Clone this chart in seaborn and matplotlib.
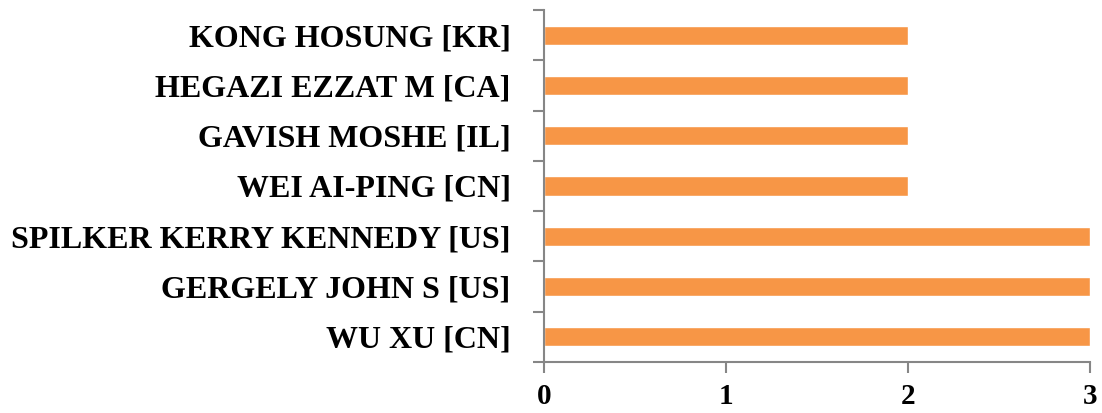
import matplotlib
matplotlib.use("Agg")
import matplotlib.pyplot as plt
import seaborn as sns
import pandas as pd
import numpy as np

inventors = [
    "KONG HOSUNG [KR]",
    "HEGAZI EZZAT M [CA]",
    "GAVISH MOSHE [IL]",
    "WEI AI-PING [CN]",
    "SPILKER KERRY KENNEDY [US]",
    "GERGELY JOHN S [US]",
    "WU XU [CN]",
]
counts = [2, 2, 2, 2, 3, 3, 3]
x_ticks = [0, 1, 2, 3]

sns.set_theme(style="white")
plt.rcParams["font.family"] = ["Liberation Serif", "DejaVu Serif"]
plt.rcParams["font.weight"] = "bold"
plt.rcParams["text.color"] = "black"
plt.rcParams["xtick.color"] = "#868686"
plt.rcParams["ytick.color"] = "#868686"
plt.rcParams["xtick.labelcolor"] = "black"
plt.rcParams["ytick.labelcolor"] = "black"

df = pd.DataFrame({"inventor": inventors, "count": counts})

fig = plt.figure(figsize=(11.02, 4.13), dpi=100)
ax = fig.add_axes([0.4936, 0.1235, 0.4955, 0.8523])

sns.barplot(data=df, y="inventor", x="count", order=inventors,
            color="#F79646", saturation=1, width=0.38, orient="h", ax=ax)

ax.set_xlim(0, 3)
ax.set_ylim(len(inventors) - 0.5, -0.5)
ax.set_xticks(x_ticks)
ax.set_xticklabels([str(t) for t in x_ticks], fontsize=21, fontweight="bold")
ax.set_yticks(range(len(inventors)))
ax.set_yticklabels(inventors, fontsize=23, fontweight="bold")
ax.set_yticks(np.arange(len(inventors) + 1) - 0.5, minor=True)
ax.tick_params(axis="y", which="major", left=False, length=0, pad=24)
ax.tick_params(axis="y", which="minor", left=True, length=8, width=1.5,
               color="#868686", direction="out")
ax.tick_params(axis="x", bottom=True, length=8, width=1.5, color="#868686",
               direction="out", pad=7)
ax.set_xlabel("")
ax.set_ylabel("")

for side in ("top", "right"):
    ax.spines[side].set_visible(False)
for side in ("left", "bottom"):
    ax.spines[side].set_color("#868686")
    ax.spines[side].set_linewidth(1.5)

fig.savefig("out.png", dpi=100)
